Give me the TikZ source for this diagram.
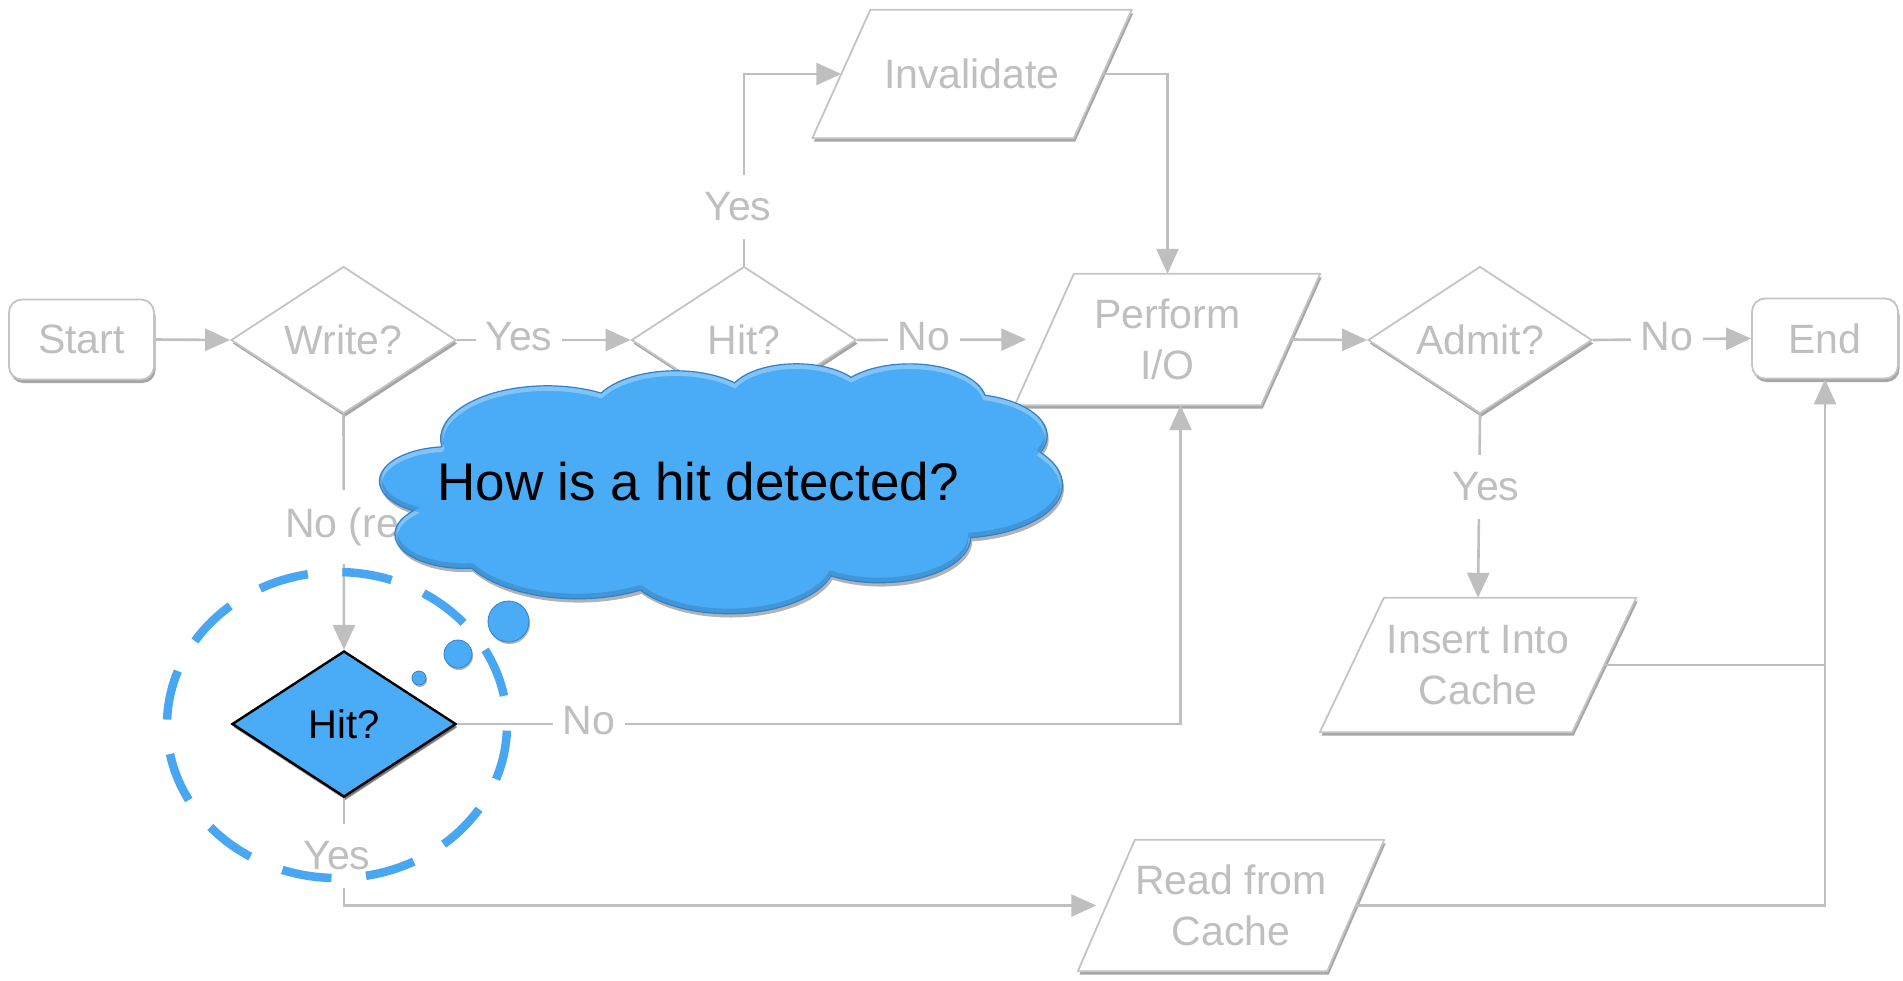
\documentclass[tikz,border=0pt]{standalone}
\usepackage{fontspec}
\setmainfont{Liberation Sans}
\usetikzlibrary{arrows.meta,shapes.geometric,shadows,calc,backgrounds}

\definecolor{lineg}{RGB}{191,191,191}
\definecolor{edgeg}{RGB}{196,196,196}
\definecolor{skyblue}{RGB}{74,171,247}
\definecolor{skyedge}{RGB}{50,128,200}
\definecolor{ringblue}{RGB}{72,166,243}

\tikzset{
  conn/.style={draw=lineg, line width=2.6pt},
  arr/.style={conn, -{Triangle[length=25pt,width=22pt]}},
  lbl/.style={fill=white, text=lineg, font=\fontsize{41}{51}\selectfont,
              inner xsep=10pt, inner ysep=18pt},
  base/.style={text=lineg, font=\fontsize{41}{51}\selectfont, align=center, inner sep=0pt},
  gshadow/.style={drop shadow={shadow xshift=1.5pt, shadow yshift=-3.5pt,
                  fill=black, opacity=0.35}},
  terminal/.style={base, draw=edgeg, line width=1.8pt, fill=white, rounded corners=13pt,
                   minimum width=145pt, minimum height=80pt, gshadow},
  decision/.style={base, draw=edgeg, line width=1.8pt, fill=white, diamond,
                   shape aspect=1.53, minimum width=225pt, minimum height=147pt, gshadow},
  iobox/.style={base, rectangle, minimum height=#1},
  bubble/.style={circle, fill=skyblue, draw=skyedge, line width=0.8pt, inner sep=0pt,
                 drop shadow={shadow xshift=1pt, shadow yshift=-2pt, fill=black, opacity=0.3}},
}

% parallelogram outline around an io box: #1 node name, #2 horizontal slant offset
\newcommand\ioframe[2]{%
  \fill[black, opacity=0.35]
    ($(#1.north west)+({#2/2+1.5},3.5)$) -- ($(#1.north east)+({#2/2+1.5},3.5)$) --
    ($(#1.south east)+({-#2/2+1.5},3.5)$) -- ($(#1.south west)+({-#2/2+1.5},3.5)$) -- cycle;
  \filldraw[fill=white, draw=edgeg, line width=1.8pt, line join=round]
    ($(#1.north west)+({#2/2},0)$) -- ($(#1.north east)+({#2/2},0)$) --
    ($(#1.south east)+({-#2/2},0)$) -- ($(#1.south west)+({-#2/2},0)$) -- cycle;
}

% eleven-arc cloud outline on a 43200 x 43200 grid (y pointing down)
\newcommand\thoughtcloud{(3900,14370)
  arc[start angle=-187.745, end angle=-59.64, x radius=6753, y radius=9190]
  arc[start angle=-152.03, end angle=-45.46, x radius=5333, y radius=7267]
  arc[start angle=-153.50, end angle=-37.35, x radius=4365, y radius=5945]
  arc[start angle=-139.71, end angle=-10.21, x radius=4857, y radius=6595]
  arc[start angle=-74.77, end angle=23.21, x radius=5333, y radius=7273]
  arc[start angle=-37.55, end angle=81.86, x radius=6775, y radius=9220]
  arc[start angle=0.46, end angle=121.97, x radius=5785, y radius=7867]
  arc[start angle=16.84, end angle=146.22, x radius=6752, y radius=9215]
  arc[start angle=58.98, end angle=150.18, x radius=7720, y radius=10543]
  arc[start angle=83.31, end angle=223.09, x radius=4360, y radius=5918]
  arc[start angle=120.36, end angle=264.11, x radius=4345, y radius=5945]
  -- cycle}

\begin{document}
\begin{tikzpicture}[x=1pt, y=-1pt]
\useasboundingbox (0,0) rectangle (1903,980);

% flow chart boxes
\node[terminal] (start) at (81.5,339.5) {Start};
\node[decision] (write) at (343.5,340) {Write?};
\node[decision] (hit) at (744,340) {Hit?};
\node[iobox=131pt, minimum width=246pt] (perform) at (1167.5,339.5) {Perform\\I/O};
\node[decision, minimum width=224pt] (admit) at (1480,340) {Admit?};
\node[terminal, minimum width=146pt] (end) at (1825,338.5) {End};
\node[iobox=128pt, minimum width=261pt] (inval) at (972,74) {Invalidate};
\node[iobox=134pt, minimum width=252pt] (insert) at (1478,665) {Insert Into\\Cache};
\node[iobox=131pt, minimum width=249pt] (read) at (1231,905.5) {Read from\\Cache};
\node[decision, fill=skyblue, draw=black, line width=2.4pt, text=black,
      font=\fontsize{40}{48}\selectfont, minimum width=224pt, minimum height=146pt,
      drop shadow={shadow xshift=1.5pt, shadow yshift=-2.5pt, fill=black, opacity=0.3}]
      (hitb) at (344,724) {Hit?};

\begin{scope}[on background layer]
  \ioframe{perform}{59}
  \ioframe{inval}{58}
  \ioframe{insert}{64}
  \ioframe{read}{57}
\end{scope}

% connectors
\draw[arr] (start.east) -- (write.west);
\draw[arr] (write.east) -- (hit.west);
\draw[arr] (hit.east) -- ([xshift=-18pt]perform.west);
\draw[arr] (perform.east) -- (admit.west);
\draw[arr] (admit.east) -- (end.west);
\draw[arr] (hit.north) |- (inval.west);
\draw[arr] (inval.east) -| (perform.north);
\draw[arr] (write.south) -- (hitb.north);
\draw[arr] (hitb.east) -| ([xshift=13pt]perform.south);
\draw[arr] (hitb.south) |- ([xshift=-10pt]read.west);
\draw[arr] (admit.south) -- (insert.north);
\draw[conn] (insert.east) -- (insert.east -| end.south);
\draw[arr] (read.east) -| (end.south);

% connector labels
\node[lbl] (l1) at (519,337) {Yes};
\node[lbl] (l2) at (924,337) {No};
\node[lbl] (l3) at (1667,337) {No};
\node[lbl] (l4) at (738,207) {Yes};
\node[lbl, anchor=west, inner xsep=0pt] (l5) at (285,527) {No (read)};
\node[lbl] (l6) at (589,721) {No};
\node[lbl] (l7) at (337,856) {Yes};
\node[lbl] (l8) at (1486,487) {Yes};

% highlight ring around the read-path decision
\draw[ringblue, line width=8.5pt, dash pattern=on 50pt off 34.6pt, dash phase=79pt]
  (hitb.center) ++(-7,1) ellipse [x radius=170, y radius=153];

% thought bubbles and cloud
\node[bubble, minimum size=14pt] (b1) at (419,678) {};
\node[bubble, minimum size=28pt] (b2) at (458,654) {};
\node[bubble, minimum size=41pt] (b3) at (508.5,621.5) {};
\begin{scope}[shift={(380,363)}, x=0.015787pt, y=-0.005787pt]
  \fill[black, opacity=0.3, shift={(95,650)}] \thoughtcloud;
  \fill[skyblue] \thoughtcloud;
  \begin{scope}
    \clip \thoughtcloud;
    \draw[white, opacity=0.3, line width=5pt, shift={(0,450)}] \thoughtcloud;
    \draw[black, opacity=0.12, line width=5pt, shift={(0,-450)}] \thoughtcloud;
  \end{scope}
  \draw[skyedge, line width=1.2pt] \thoughtcloud;
\end{scope}
\node[font=\fontsize{53}{60}\selectfont, text=black, inner sep=0pt] (q) at (698,482)
  {How is a hit detected?};
\end{tikzpicture}
\end{document}
